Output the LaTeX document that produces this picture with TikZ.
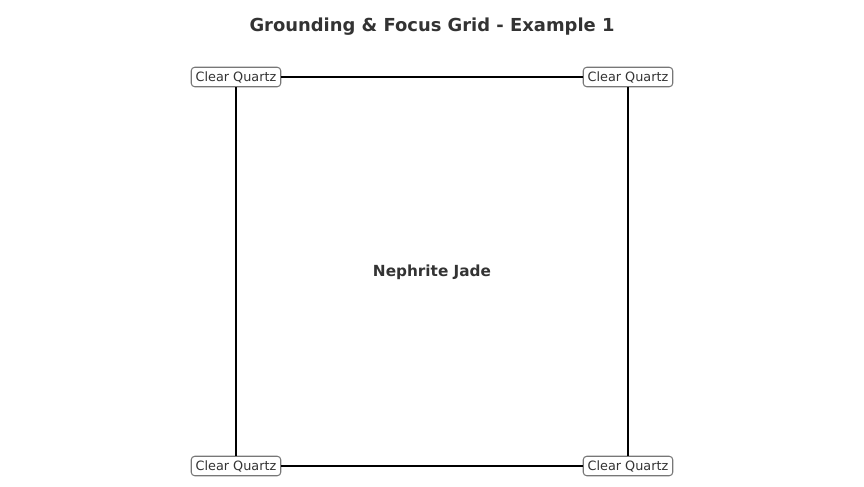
\documentclass[tikz,border=0pt]{standalone}
\usepackage{fontspec}
\setmainfont{DejaVu Sans}
\usepackage{xcolor}
\usetikzlibrary{positioning,calc}
\definecolor{inkgray}{RGB}{51,51,51}
\definecolor{boxedge}{RGB}{119,119,119}

\tikzset{
    crystal/.style={draw=boxedge, fill=white, rounded corners=2pt, line width=0.6pt,
        text=inkgray, font=\fontsize{7.3}{8}\selectfont, inner xsep=2.5pt, inner ysep=2.3pt},
    gridline/.style={black, line width=1.6pt}
}

\begin{document}
\begin{tikzpicture}[x=0.02cm, y=-0.02cm]
\useasboundingbox (0,0) rectangle (864,486);

    % Title
    \node[text=inkgray, font=\fontsize{10.2}{12}\bfseries] (title) at (432,27)
        {Grounding \& Focus Grid - Example 1};

    % Corner stones
    \node[crystal] (qtl) at (236,77) {Clear Quartz};
    \node[crystal] (qtr) at (628,77) {Clear Quartz};
    \node[crystal] (qbl) at (236,466) {Clear Quartz};
    \node[crystal] (qbr) at (628,466) {Clear Quartz};

    % Grid
    \draw[gridline] (qtl) -- (qtr);
    \draw[gridline] (qtr) -- (qbr);
    \draw[gridline] (qbr) -- (qbl);
    \draw[gridline] (qbl) -- (qtl);

    % Centre stone
    \node[text=inkgray, font=\fontsize{8.7}{10}\bfseries] (centre) at (432,272) {Nephrite Jade};
\end{tikzpicture}
\end{document}
